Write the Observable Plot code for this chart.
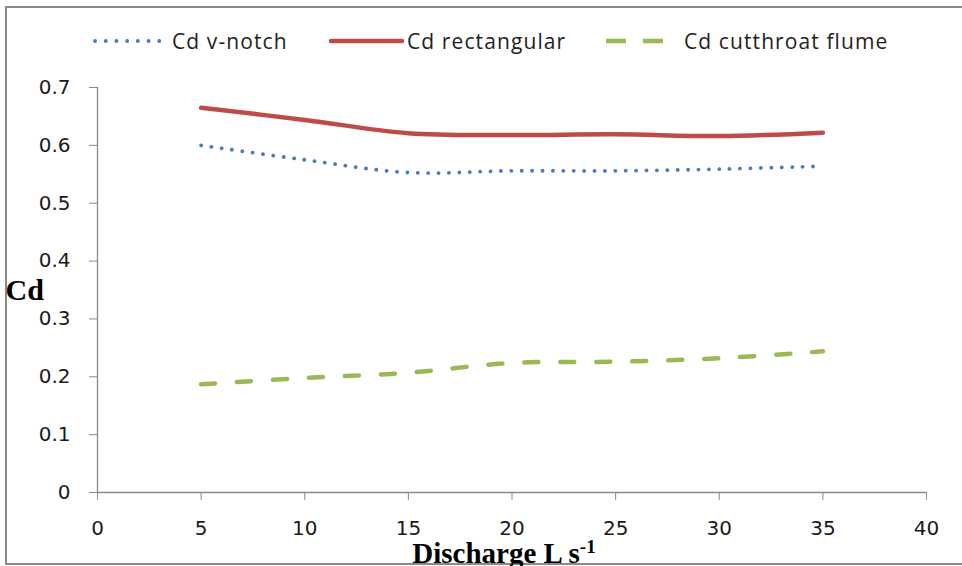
<!DOCTYPE html>
<html>
<head>
<meta charset="utf-8">
<script src="https://cdn.jsdelivr.net/npm/d3@7"></script>
<script src="https://cdn.jsdelivr.net/npm/@observablehq/plot@0.6"></script>
<style>
  html, body { margin: 0; padding: 0; background: #fff; }
  #wrap { position: relative; width: 962px; height: 566px; overflow: hidden; background: #fff; }
  #frame { position: absolute; left: 5px; top: 6px; width: 1000px; height: 555px; border: 2px solid #8a8a8a; }
  #chart { position: absolute; left: 0; top: 0; }
  .leg { position: absolute; top: 24px; height: 34px; }
  .leg svg { position: absolute; top: 0; }
  .leg span { position: absolute; top: 0; line-height: 34px; font-family: "Open Sans", sans-serif; font-size: 21px; letter-spacing: 1.1px; color: #222; white-space: nowrap; }
</style>
</head>
<body>
<div id="wrap">
  <div id="frame"></div>
  <div id="chart"></div>
  <div id="legend"></div>
</div>
<script>
// Discharge (L/s)
const discharge = [5, 10, 15, 20, 25, 30, 35];
// Discharge coefficient series
const cdVNotch = [0.600, 0.575, 0.553, 0.556, 0.556, 0.559, 0.564];
const cdRectangular = [0.665, 0.644, 0.621, 0.618, 0.619, 0.616, 0.622];
const cdCutthroat = [0.187, 0.198, 0.207, 0.224, 0.226, 0.232, 0.244];
const seriesNames = ["Cd v-notch", "Cd rectangular", "Cd cutthroat flume"];
const xTicks = [0, 5, 10, 15, 20, 25, 30, 35, 40];
const yTicks = [0, 0.1, 0.2, 0.3, 0.4, 0.5, 0.6, 0.7];

const colors = {"Cd v-notch": "#4a7ebb", "Cd rectangular": "#be4b48", "Cd cutthroat flume": "#98b954"};

const rows = (vals) => discharge.map((q, i) => ({q, v: vals[i]}));

const axisColor = "#8a8a8a";
const tickFont = {fontFamily: "DejaVu Sans, sans-serif", fontSize: 20};

const plot = Plot.plot({
  width: 962,
  height: 566,
  marginLeft: 97,
  marginRight: 36,
  marginTop: 87,
  marginBottom: 74,
  style: {background: "transparent", overflow: "visible"},
  x: {domain: [0, 40]},
  y: {domain: [0, 0.7]},
  marks: [
    Plot.ruleX([0], {stroke: axisColor, strokeWidth: 1.3}),
    Plot.ruleY([0], {stroke: axisColor, strokeWidth: 1.3}),
    Plot.axisY({ticks: yTicks, tickSize: 8, tickPadding: 19, stroke: axisColor, tickFormat: d => d === 0 ? "0" : d3.format(".1f")(d), label: null, fill: "#1a1a1a", ...tickFont}),
    Plot.axisX({ticks: xTicks, tickSize: 8, tickPadding: 20, stroke: axisColor, tickFormat: d => String(d), label: null, fill: "#1a1a1a", ...tickFont}),
    Plot.line(rows(cdCutthroat), {x: "q", y: "v", curve: "catmull-rom", stroke: colors["Cd cutthroat flume"], strokeWidth: 4.5, strokeDasharray: "14 22", strokeLinecap: "round"}),
    Plot.line(rows(cdVNotch), {x: "q", y: "v", curve: "catmull-rom", stroke: colors["Cd v-notch"], strokeWidth: 3.8, strokeDasharray: "0.1 10.3", strokeLinecap: "round"}),
    Plot.line(rows(cdRectangular), {x: "q", y: "v", curve: "catmull-rom", stroke: colors["Cd rectangular"], strokeWidth: 4.5, strokeLinecap: "round"}),
    Plot.text(["Cd"], {frameAnchor: "left", dx: -92, dy: 0, textAnchor: "start", fontFamily: "Liberation Serif, serif", fontWeight: "bold", fontSize: 30, fill: "#000"}),
    Plot.text(["Discharge L s"], {frameAnchor: "bottom", dx: -8, dy: 61, textAnchor: "middle", lineAnchor: "middle", fontFamily: "Liberation Serif, serif", fontWeight: "bold", fontSize: 29, fill: "#000"})
  ]
});

// superscript -1 on the x label
d3.select(plot).selectAll("text").filter(function() { return this.textContent === "Discharge L s"; })
  .append("tspan").attr("baseline-shift", "super").attr("font-size", 19).text("-1");

document.getElementById("chart").appendChild(plot);

// Legend (HTML above chart)
const legend = document.getElementById("legend");
const legItems = [
  {name: seriesNames[0], x: 95, w: 70, tx: 172, dash: "0.1 10.6", sw: 3.8},
  {name: seriesNames[1], x: 331, w: 71, tx: 407, dash: null, sw: 4.5},
  {name: seriesNames[2], x: 604, w: 60, tx: 684, dash: "20 17", sw: 4.5}
];
legItems.forEach(it => {
  const g = document.createElement("div");
  g.className = "leg";
  g.style.left = "0px";
  const svg = d3.create("svg").attr("width", it.w + 6).attr("height", 34).style("left", (it.x - 3) + "px");
  svg.append("line").attr("x1", 3 + (it.dash && it.dash.startsWith("20") ? 2 : 0)).attr("x2", it.w + 3).attr("y1", 17).attr("y2", 17)
    .attr("stroke", colors[it.name]).attr("stroke-width", it.sw)
    .attr("stroke-linecap", it.dash && it.dash.startsWith("20") ? "butt" : "round")
    .attr("stroke-dasharray", it.dash);
  g.appendChild(svg.node());
  const s = document.createElement("span");
  s.style.left = it.tx + "px";
  s.textContent = it.name;
  g.appendChild(s);
  legend.appendChild(g);
});
</script>
</body>
</html>
